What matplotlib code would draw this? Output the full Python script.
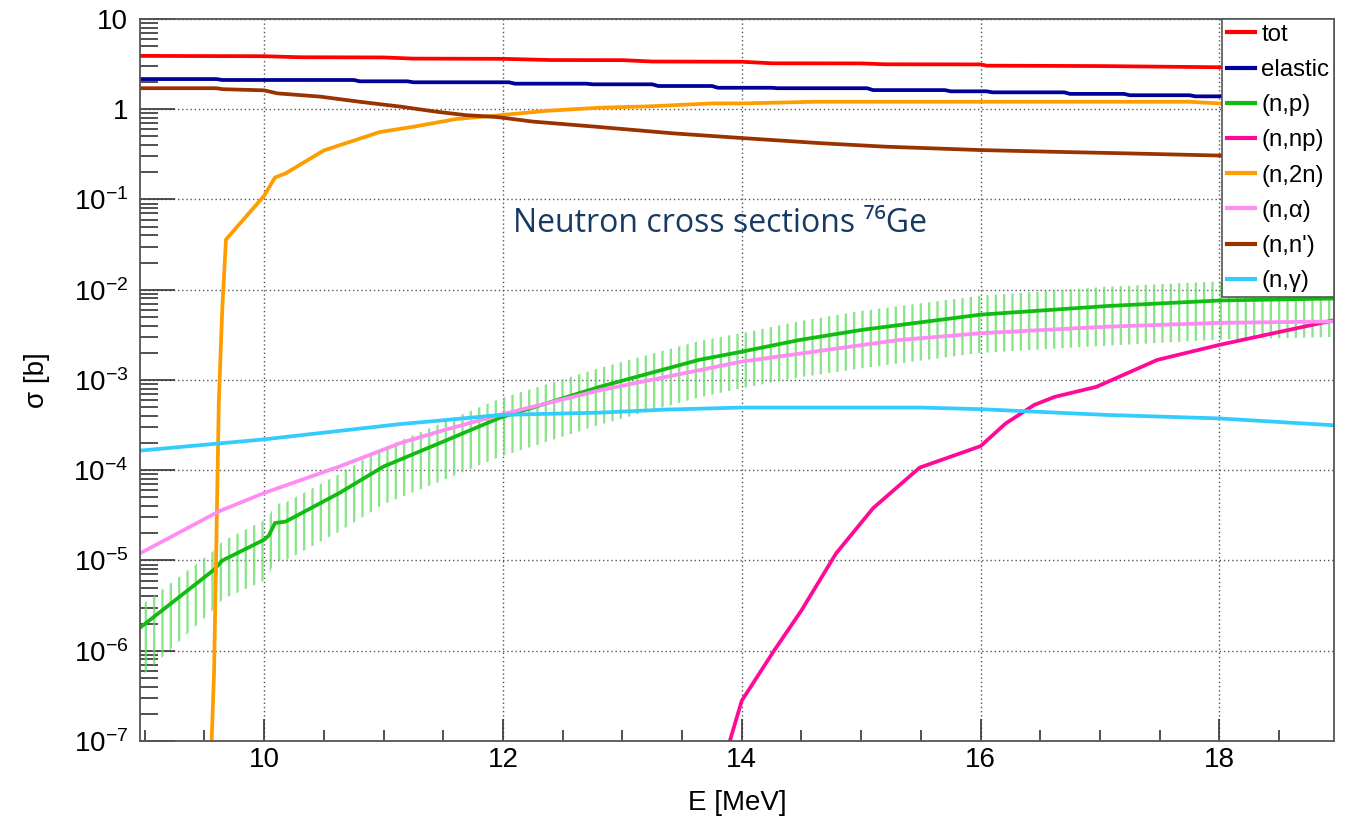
import numpy as np
import matplotlib
matplotlib.use('Agg')
import matplotlib.pyplot as plt
from matplotlib.ticker import MultipleLocator, LogLocator, FuncFormatter, NullFormatter

# ---------------- data ----------------
E_tot = [8.96, 10.0, 10.3, 11.0, 11.25, 12.0, 12.4, 13.0, 13.25, 14.0, 14.25, 15.0, 15.2, 16.0, 16.05, 17.0, 18.0, 18.96]
s_tot = [3.90, 3.87, 3.77, 3.75, 3.64, 3.62, 3.51, 3.50, 3.38, 3.36, 3.23, 3.22, 3.15, 3.14, 3.04, 3.01, 2.92, 2.86]

E_el = [8.96, 9.6, 9.65, 10.75, 10.8, 11.2, 11.25, 12.05, 12.1, 12.7, 12.75, 13.25, 13.3, 13.75, 13.8, 14.25, 14.3,
        15.05, 15.1, 15.7, 15.75, 16.05, 16.1, 16.7, 16.75, 17.2, 17.25, 17.75, 17.8, 18.0, 18.96]
s_el = [2.16, 2.16, 2.11, 2.11, 2.04, 2.04, 1.99, 1.99, 1.92, 1.92, 1.89, 1.89, 1.81, 1.81, 1.73, 1.73, 1.71,
        1.71, 1.63, 1.63, 1.58, 1.58, 1.54, 1.54, 1.48, 1.48, 1.43, 1.43, 1.39, 1.39, 1.36]

E_np_ = [8.96, 9.58, 9.65, 10.0, 10.04, 10.09, 10.18, 10.63, 11.0, 11.47, 11.97, 12.81, 13.64, 14.0, 14.48, 15.01,
         16.0, 17.06, 18.0, 18.96]
s_np_ = [1.8e-6, 7.9e-6, 1.0e-5, 1.7e-5, 1.9e-5, 2.6e-5, 2.7e-5, 5.6e-5, 1.1e-4, 2.0e-4, 3.8e-4, 8.4e-4, 1.67e-3,
         2.06e-3, 2.77e-3, 3.6e-3, 5.3e-3, 6.6e-3, 7.6e-3, 8.0e-3]
e_np_ = [1.3e-6, 5.0e-6, 6.3e-6, 1.1e-5, 1.2e-5, 1.6e-5, 1.7e-5, 3.5e-5, 6.8e-5, 1.25e-4, 2.4e-4, 5.2e-4, 1.03e-3,
         1.25e-3, 1.7e-3, 2.25e-3, 3.3e-3, 4.2e-3, 4.8e-3, 5.0e-3]

E_nnp = [13.8, 13.9, 14.0, 14.27, 14.5, 14.79, 15.1, 15.49, 16.0, 16.21, 16.45, 16.62, 16.97, 17.1, 17.48, 18.0, 18.96]
s_nnp = [3.6e-8, 1.0e-7, 2.8e-7, 1.0e-6, 2.8e-6, 1.2e-5, 3.8e-5, 1.07e-4, 1.85e-4, 3.3e-4, 5.3e-4, 6.5e-4, 8.4e-4,
         1.0e-3, 1.67e-3, 2.45e-3, 4.6e-3]

E_2n = [9.54, 9.56, 9.58, 9.60, 9.62, 9.635, 9.65, 9.68, 10.0, 10.09, 10.18, 10.5, 10.97, 11.25, 11.61, 11.98, 12.36,
        12.81, 13.25, 13.5, 13.75, 14.0, 14.6, 15.5, 16.5, 17.75, 18.0, 18.96]
s_2n = [2e-8, 1e-7, 5.6e-7, 1.7e-5, 5.5e-4, 2.0e-3, 6.5e-3, 0.036, 0.11, 0.175, 0.195, 0.35, 0.56, 0.64, 0.78, 0.86,
        0.96, 1.04, 1.08, 1.12, 1.16, 1.16, 1.21, 1.21, 1.21, 1.21, 1.16, 1.15]

E_a = [8.96, 9.62, 10.0, 10.63, 11.14, 11.47, 11.97, 12.81, 14.0, 15.31, 16.0, 17.06, 18.0, 18.96]
s_a = [1.2e-5, 3.5e-5, 5.6e-5, 1.1e-4, 2.0e-4, 2.7e-4, 4.1e-4, 7.7e-4, 1.6e-3, 2.77e-3, 3.3e-3, 3.9e-3, 4.3e-3, 4.45e-3]

E_nn = [8.96, 9.6, 9.65, 10.0, 10.11, 10.47, 10.8, 11.14, 11.44, 11.69, 11.95, 12.25, 12.78, 13.43, 14.0, 14.67,
        15.2, 16.0, 16.56, 17.2, 18.04, 18.96]
s_nn = [1.71, 1.71, 1.67, 1.62, 1.50, 1.38, 1.21, 1.07, 0.94, 0.86, 0.82, 0.73, 0.64, 0.54, 0.48, 0.42,
        0.385, 0.353, 0.339, 0.325, 0.306, 0.295]

E_g = [8.96, 10.0, 11.14, 11.47, 11.97, 12.81, 13.36, 14.0, 15.5, 16.0, 17.06, 18.0, 18.96]
s_g = [1.65e-4, 2.2e-4, 3.25e-4, 3.55e-4, 4.1e-4, 4.35e-4, 4.7e-4, 4.95e-4, 4.95e-4, 4.75e-4, 4.1e-4, 3.75e-4, 3.15e-4]

labels = ['tot', 'elastic', '(n,p)', '(n,np)', '(n,2n)', '(n,\u03b1)', "(n,n')", '(n,\u03b3)']
colors = ['#ff0000', '#000099', '#11bb11', '#ff0a96', '#ff9c00', '#ff8cf2', '#993300', '#33ccff']

title = 'Neutron cross sections \u2077\u2076Ge'

# ---------------- style ----------------
plt.rcParams['font.family'] = ['Liberation Sans', 'DejaVu Sans']
plt.rcParams['mathtext.fontset'] = 'custom'
plt.rcParams['mathtext.rm'] = 'Liberation Sans'
plt.rcParams['mathtext.it'] = 'Liberation Sans:italic'
plt.rcParams['mathtext.bf'] = 'Liberation Sans:bold'
plt.rcParams['hatch.linewidth'] = 1.7
band_col = (0.40, 0.86, 0.40, 0.75)
plt.rcParams['hatch.color'] = band_col

fig = plt.figure(figsize=(13.45, 8.22), dpi=100)
ax = fig.add_axes([140 / 1345, 1 - 741 / 822, (1334 - 140) / 1345, (741 - 19) / 822])
ax.set_yscale('log')
ax.set_xlim(8.96, 18.96)
ax.set_ylim(1e-7, 10)

lw = 2.7
# error band of (n,p)
lo = np.array(s_np_) - np.array(e_np_)
hi = np.array(s_np_) + np.array(e_np_)
ax.fill_between(E_np_, lo, hi, facecolor='none', edgecolor=band_col, hatch='||', linewidth=0, zorder=1.5)

series = [(E_tot, s_tot), (E_el, s_el), (E_np_, s_np_), (E_nnp, s_nnp), (E_2n, s_2n), (E_a, s_a), (E_nn, s_nn), (E_g, s_g)]
handles = []
for (x, y), lab, c in zip(series, labels, colors):
    h, = ax.plot(x, y, color=c, lw=lw, label=lab, solid_joinstyle='round')
    handles.append(h)

# axes / ticks
ax.xaxis.set_major_locator(MultipleLocator(2))
ax.xaxis.set_minor_locator(MultipleLocator(0.5))
ax.yaxis.set_major_locator(LogLocator(base=10, numticks=20))
ax.yaxis.set_minor_locator(LogLocator(base=10, subs=np.arange(2, 10), numticks=20))
ax.yaxis.set_minor_formatter(NullFormatter())


def yfmt(v, pos):
    e = int(round(np.log10(v)))
    if e == 1:
        return '10'
    if e == 0:
        return '1'
    return r'$\mathregular{10^{%d}}$' % e


ax.yaxis.set_major_formatter(FuncFormatter(yfmt))
ax.tick_params(axis='both', which='both', direction='in', colors='#333333', width=1.2, labelcolor='black',
               labelsize=20, top=False, right=False)
ax.tick_params(axis='x', which='major', length=16, pad=4.5)
ax.tick_params(axis='x', which='minor', length=8)
ax.tick_params(axis='y', which='major', length=25, pad=8.5)
ax.tick_params(axis='y', which='minor', length=13)

for sp in ax.spines.values():
    sp.set_color('#555555')
    sp.set_linewidth(1.3)

ax.grid(True, which='major', linestyle=(0, (1, 2)), color='#555555', linewidth=1.0)
ax.set_axisbelow(True)

ax.set_xlabel('E [MeV]', fontsize=20)
ax.set_ylabel('\u03c3 [b]', fontsize=20)
ax.xaxis.set_label_coords(0.5, -0.068)
ax.yaxis.set_label_coords(-0.075, 0.5)

leg = ax.legend(handles=handles, loc='upper right', bbox_to_anchor=(1, 1), borderaxespad=0, fontsize=17.3,
                frameon=True, fancybox=False, framealpha=1, edgecolor='#555555', handlelength=1.17,
                handletextpad=0.25, labelspacing=0.55, borderpad=0.2)
leg.get_frame().set_linewidth(1.2)
for l in leg.get_lines():
    l.set_linewidth(3)

ax.text((513 - 140) / 1194, 1 - (232 - 19) / 722, title, transform=ax.transAxes, ha='left', va='baseline',
        fontsize=23, color='#163a64', family=['Open Sans', 'Noto Sans', 'DejaVu Sans'])

fig.savefig('out.png', dpi=100)
